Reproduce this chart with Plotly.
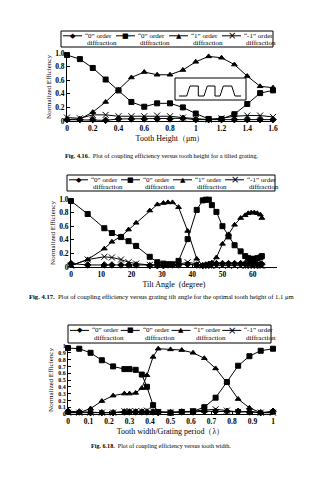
import plotly.graph_objects as go

W, H = 322, 480
FONT = "Liberation Serif"

# ---------------- data ----------------
# Fig 4.16 : efficiency vs tooth height
h_x = [0, 0.1, 0.2, 0.3, 0.4, 0.5, 0.6, 0.7, 0.8, 0.9, 1.0, 1.1, 1.2, 1.3, 1.4, 1.5, 1.6]
h_r0 = [0.02, 0.02, 0.02, 0.01, 0.03, 0.03, 0.03, 0.03, 0.03, 0.04, 0.02, 0.02, 0.02, 0.02, 0.02, 0.02, 0.02]
h_t0 = [0.97, 0.91, 0.78, 0.61, 0.45, 0.28, 0.21, 0.26, 0.26, 0.20, 0.11, 0.03, 0.03, 0.10, 0.25, 0.41, 0.45]
h_t1 = [0.02, 0.03, 0.13, 0.28, 0.46, 0.64, 0.72, 0.68, 0.68, 0.75, 0.87, 0.95, 0.93, 0.83, 0.66, 0.51, 0.49]
h_tm1 = [0.05, 0.04, 0.09, 0.09, 0.07, 0.07, 0.07, 0.08, 0.07, 0.05, 0.03, 0.02, 0.04, 0.07, 0.08, 0.08, 0.06]

# Fig 4.17 : efficiency vs tilt angle
a_x = [0, 5.5, 11, 13.5, 16.5, 19, 21.5, 26, 28.5, 30.5, 32, 33.5, 35.5, 38.5, 41.5, 43.5,
       44.5, 45.5, 46.5, 48, 50, 52, 54, 56, 57.5, 58.5, 59.5, 60.5, 61.5, 62.5, 63]
a_r0 = [0.05, 0.03, 0.03, 0.03, 0.03, 0.03, 0.03, 0.02, 0.02, 0.02, 0.03, 0.03, 0.03, 0.04, 0.03, 0.02,
        0.03, 0.04, 0.05, 0.05, 0.05, 0.05, 0.05, 0.05, 0.05, 0.05, 0.05, 0.05, 0.04, 0.04, 0.04]
a_t0 = [0.97, 0.78, 0.57, 0.50, 0.44, 0.38, 0.31, 0.15, 0.07, 0.05, 0.04, 0.04, 0.09, 0.41, 0.84, 0.98,
        0.99, 0.99, 0.91, 0.81, 0.60, 0.45, 0.32, 0.23, 0.16, 0.13, 0.12, 0.12, 0.13, 0.14, 0.16]
a_t1 = [0.02, 0.11, 0.27, 0.37, 0.45, 0.55, 0.65, 0.83, 0.92, 0.94, 0.95, 0.95, 0.88, 0.53, 0.12, 0.02,
        0.02, 0.03, 0.06, 0.14, 0.34, 0.48, 0.62, 0.72, 0.76, 0.79, 0.80, 0.80, 0.79, 0.77, 0.72]
a_tm1 = [0.02, 0.11, 0.15, 0.14, 0.11, 0.07, 0.05, 0.03, 0.03, 0.03, 0.03, 0.03, 0.04, 0.07, 0.04, 0.02,
         0.02, 0.02, 0.02, 0.02, 0.02, 0.02, 0.02, 0.02, 0.02, 0.02, 0.02, 0.02, 0.02, 0.02, 0.02]

# Fig 6.18 : efficiency vs tooth width
w_x = [0, 0.055, 0.11, 0.165, 0.22, 0.275, 0.30, 0.33, 0.36, 0.385, 0.415, 0.44, 0.50, 0.555,
       0.61, 0.665, 0.72, 0.775, 0.83, 0.885, 0.94, 1.0]
w_r0 = [0.04, 0.03, 0.02, 0.02, 0.02, 0.03, 0.03, 0.03, 0.03, 0.03, 0.03, 0.02, 0.02, 0.03,
        0.03, 0.04, 0.04, 0.04, 0.04, 0.03, 0.02, 0.04]
w_t0 = [0.97, 0.96, 0.90, 0.79, 0.70, 0.66, 0.66, 0.65, 0.58, 0.40, 0.13, 0.03, 0.02, 0.03,
        0.04, 0.10, 0.24, 0.47, 0.71, 0.85, 0.93, 0.96]
w_t1 = [0.02, 0.02, 0.08, 0.19, 0.27, 0.30, 0.30, 0.31, 0.38, 0.57, 0.84, 0.96, 0.95, 0.94,
        0.90, 0.82, 0.67, 0.46, 0.22, 0.09, 0.02, 0.02]
w_tm1 = [0.02, 0.02, 0.02, 0.02, 0.02, 0.04, 0.04, 0.04, 0.04, 0.05, 0.04, 0.03, 0.02, 0.03,
         0.04, 0.06, 0.07, 0.05, 0.03, 0.04, 0.02, 0.02]

series_names = ["\u201c0\u201d order diffraction", "\u201c0\u201d order diffraction",
                "\u201c1\u201d order diffraction", "\u201c-1\u201d order diffraction"]
legend_line1 = ["\u201c0\u201d order", "\u201c0\u201d order", "\u201c1\u201d order", "\u201c-1\u201d order"]
symbols = ["diamond", "square", "triangle-up", "x-thin"]
glyphs = ["\u25c6", "\u25a0", "\u25b2", "\u00d7"]

h_ticks = [0, 0.2, 0.4, 0.6, 0.8, 1.0, 1.2, 1.4, 1.6]
h_ticktext = ["0", "0.2", "0.4", "0.6", "0.8", "1", "1.2", "1.4", "1.6"]
a_ticks = [0, 10, 20, 30, 40, 50, 60]
y5_ticks = [0, 0.2, 0.4, 0.6, 0.8, 1.0]
y5_text = ["0", "0.2", "0.4", "0.6", "0.8", "1.0"]
w_ticks = [0, 0.1, 0.2, 0.3, 0.4, 0.5, 0.6, 0.7, 0.8, 0.9, 1.0]
w_text = ["0", "0.1", "0.2", "0.3", "0.4", "0.5", "0.6", "0.7", "0.8", "0.9", "1"]

# ---------------- helpers ----------------
def px(x):
    return x / W

def py(y):
    return 1 - y / H

fig = go.Figure()

def add_series(xs, ys_list, xa, ya):
    for name, ys, sym in zip(series_names, ys_list, symbols):
        fig.add_trace(go.Scatter(
            x=xs, y=ys, name=name, mode="lines+markers",
            xaxis=xa, yaxis=ya, showlegend=False, cliponaxis=False,
            line=dict(color="black", width=1),
            marker=dict(symbol=sym, size=5 if sym != "x-thin" else 6, color="black",
                        line=dict(color="black", width=1)),
        ))

add_series(h_x, [h_r0, h_t0, h_t1, h_tm1], "x", "y")
add_series(a_x, [a_r0, a_t0, a_t1, a_tm1], "x2", "y2")
add_series(w_x, [w_r0, w_t0, w_t1, w_tm1], "x3", "y3")

tickfont = dict(family=FONT, size=7.5, color="black", weight="bold")
smalltick = dict(family=FONT, size=6, color="black", weight="bold")
titlefont = dict(family=FONT, size=8, color="black")

def xaxis(dom, rng, tv, tt, title, anchor):
    return dict(domain=dom, range=rng, tickvals=tv, ticktext=tt, anchor=anchor,
                showline=True, linecolor="black", linewidth=1, ticks="inside", ticklen=3,
                tickcolor="black", showgrid=False, zeroline=False, tickfont=tickfont,
                title=dict(text=title, font=titlefont, standoff=3), automargin=False)

def yaxis(dom, rng, tv, tt, anchor, tf, standoff):
    return dict(domain=dom, range=rng, tickvals=tv, ticktext=tt, anchor=anchor,
                showline=True, linecolor="black", linewidth=1, ticks="inside", ticklen=3,
                tickcolor="black", showgrid=False, zeroline=False, tickfont=tf,
                title=dict(text="Normalized Efficiency", font=dict(family=FONT, size=7, color="black"),
                           standoff=standoff), automargin=False)

fig.update_layout(
    width=W, height=H, margin=dict(l=0, r=0, t=0, b=0),
    paper_bgcolor="white", plot_bgcolor="white",
    font=dict(family=FONT, color="black"),
    xaxis=xaxis([px(67), px(273)], [0, 1.6], h_ticks, h_ticktext, "Tooth Height\uff08\u03bcm\uff09", "y"),
    yaxis=yaxis([py(121), py(53)], [0, 1.0], y5_ticks, y5_text, "x", tickfont, 2),
    xaxis2=xaxis([px(71), px(277)], [0, 68], a_ticks, [str(t) for t in a_ticks], "Tilt Angle  (degree)", "y2"),
    yaxis2=yaxis([py(267), py(199)], [0, 1.0], y5_ticks, y5_text, "x2", tickfont, 2),
    xaxis3=xaxis([px(68), px(273)], [0, 1.0], w_ticks, w_text, "Tooth width/Grating period\uff08\u03bb\uff09", "y3"),
    yaxis3=yaxis([py(414), py(346)], [0, 1.0], w_ticks, w_text, "x3", smalltick, 3),
)

shapes = []
annotations = []

# ---------------- legends (drawn boxes) ----------------
def draw_legend(x0, y0, x1, y1):
    shapes.append(dict(type="rect", xref="paper", yref="paper", x0=px(x0), x1=px(x1),
                       y0=py(y1), y1=py(y0), line=dict(color="black", width=1), fillcolor="white",
                       layer="above"))
    step = (x1 - x0) / 4
    ly1 = y0 + (y1 - y0) * 0.30
    ly2 = y0 + (y1 - y0) * 0.72
    for i in range(4):
        sx = x0 + 2 + i * step
        shapes.append(dict(type="line", xref="paper", yref="paper", x0=px(sx), x1=px(sx + 19),
                           y0=py(ly1), y1=py(ly1), line=dict(color="black", width=1)))
        annotations.append(dict(xref="paper", yref="paper", x=px(sx + 9.5), y=py(ly1),
                                text=glyphs[i], showarrow=False, xanchor="center", yanchor="middle",
                                font=dict(family="DejaVu Sans", size=7 if i < 3 else 10, color="black")))
        annotations.append(dict(xref="paper", yref="paper", x=px(sx + 20), y=py(ly1),
                                text=legend_line1[i], showarrow=False, xanchor="left", yanchor="middle",
                                font=dict(family=FONT, size=7, color="black")))
        annotations.append(dict(xref="paper", yref="paper", x=px(sx + 22), y=py(ly2),
                                text="diffraction", showarrow=False, xanchor="left", yanchor="middle",
                                font=dict(family=FONT, size=7, color="black")))

draw_legend(61, 31, 273, 47)
draw_legend(67, 175, 275, 191)
draw_legend(68, 325, 271, 343)

# ---------------- inset: tilted grating profile ----------------
shapes.append(dict(type="rect", xref="paper", yref="paper", x0=px(175), x1=px(246),
                   y0=py(100), y1=py(78), line=dict(color="black", width=1), fillcolor="white"))
base, top = 96, 86
pts = [(179, base), (186.7, base), (190, top), (198.3, top), (198.3, base), (204, base),
       (207.3, top), (215, top), (215, base), (220, base), (223.3, top), (231.7, top),
       (235, base), (241, base)]
path = "M " + " L ".join(f"{px(a):.5f},{py(b):.5f}" for a, b in pts)
shapes.append(dict(type="path", xref="paper", yref="paper", path=path,
                   line=dict(color="black", width=1)))

# ---------------- captions ----------------
annotations.append(dict(xref="paper", yref="paper", x=px(162), y=py(155), showarrow=False,
                        xanchor="center", yanchor="middle",
                        text="<b>Fig. 4.16.</b>  Plot of coupling efficiency versus tooth height for a tilted grating.",
                        font=dict(family=FONT, size=6.3, color="black")))
annotations.append(dict(xref="paper", yref="paper", x=px(161), y=py(296), showarrow=False,
                        xanchor="center", yanchor="middle",
                        text="<b>Fig. 4.17.</b>  Plot of coupling efficiency versus grating tilt angle for the optimal tooth height of 1.1 \u03bcm",
                        font=dict(family=FONT, size=6.6, color="black")))
annotations.append(dict(xref="paper", yref="paper", x=px(161), y=py(446), showarrow=False,
                        xanchor="center", yanchor="middle",
                        text="<b>Fig. 6.18.</b>  Plot of coupling efficiency versus tooth width.",
                        font=dict(family=FONT, size=6.1, color="black")))

fig.update_layout(shapes=shapes, annotations=annotations)
fig.write_html("out.html")
